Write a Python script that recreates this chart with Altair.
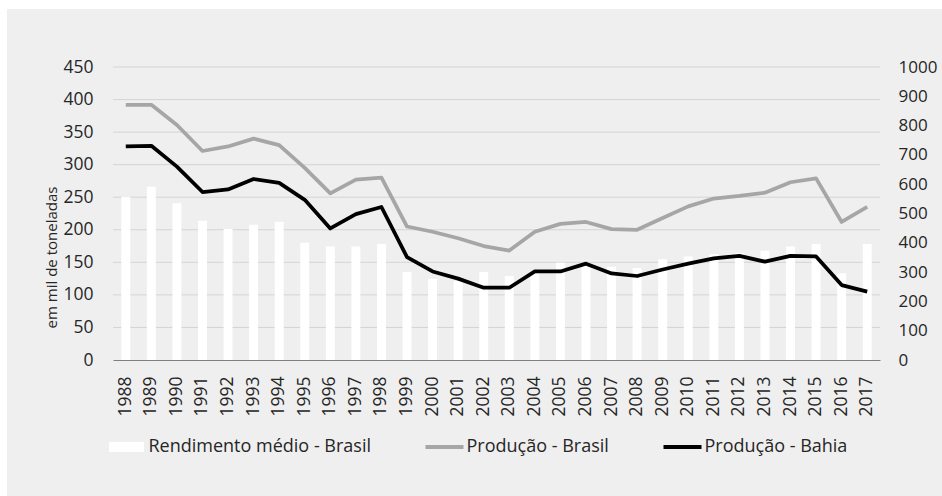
import altair as alt
import pandas as pd

years = [str(y) for y in range(1988, 2018)]
rendimento = [557, 591, 535, 475, 447, 462, 472, 400, 387, 387,
              396, 300, 277, 270, 300, 287, 296, 332, 330, 318,
              314, 344, 353, 362, 364, 373, 387, 396, 296, 396]
prod_brasil = [392, 392, 361, 321, 328, 340, 330, 295, 256, 277,
               280, 205, 197, 187, 175, 168, 197, 209, 212, 201,
               200, 218, 236, 248, 252, 257, 273, 279, 212, 235]
prod_bahia = [328, 329, 297, 258, 262, 278, 272, 246, 202, 224,
              235, 158, 136, 125, 111, 111, 136, 136, 148, 133,
              129, 139, 148, 156, 160, 151, 160, 159, 115, 105]
series = ["Rendimento médio - Brasil", "Produção - Brasil", "Produção - Bahia"]
colors = ["#ffffff", "#a6a6a6", "#000000"]
left_ticks = [50, 100, 150, 200, 250, 300, 350, 400, 450]

FONT = "Open Sans"
TXT = "#262626"
W, H = 767, 293

bars_df = pd.DataFrame({"ano": years, "valor": rendimento})
brasil_df = pd.DataFrame({"ano": years, "valor": prod_brasil})
bahia_df = pd.DataFrame({"ano": years, "valor": prod_bahia})
legend_df = pd.DataFrame({"serie": series})
grid_df = pd.DataFrame({"v": left_ticks})

x_axis = alt.Axis(title=None, labelAngle=270, labelFont=FONT, labelFontSize=17.5,
                  labelColor=TXT, labelPadding=16, ticks=False, tickSize=0,
                  domain=True, domainColor="#7f7f7f", domainWidth=1, zindex=1,
                  labelOverlap=False)
x_enc = alt.X("ano:O", scale=alt.Scale(paddingInner=0.65, paddingOuter=0.325),
              axis=x_axis, sort=years)

bg = alt.Chart(pd.DataFrame({"a": [0]})).mark_rect(color="#efefef").encode(
    x=alt.value(-106), x2=alt.value(W + 62), y=alt.value(-58), y2=alt.value(H + 136)
)

grid = alt.Chart(grid_df).mark_rule(color="#d4d4d4", strokeWidth=1).encode(
    y=alt.Y("v:Q", scale=alt.Scale(domain=[0, 450], nice=False), axis=None),
    x=alt.value(0), x2=alt.value(W)
)

bars = alt.Chart(bars_df).mark_bar(color="#ffffff").encode(
    x=x_enc,
    y=alt.Y("valor:Q", scale=alt.Scale(domain=[0, 1000], nice=False),
            axis=alt.Axis(orient="right", title=None, values=list(range(0, 1001, 100)),
                          format="d", grid=False, ticks=False, tickSize=0, domain=False,
                          labelFont=FONT, labelFontSize=17, labelColor=TXT,
                          labelPadding=18, labelAlign="left", zindex=1)),
)

left_axis = alt.Axis(orient="left", values=list(range(0, 451, 50)), grid=False,
                     ticks=False, tickSize=0, domain=False,
                     labelFont=FONT, labelFontSize=17.5, labelColor=TXT,
                     labelPadding=20, zindex=1,
                     title="em mil de toneladas", titleFont=FONT,
                     titleFontSize=15, titleFontWeight="normal", titleColor=TXT,
                     titleAngle=270, titleX=-62, titleY=190,
                     titleAlign="center", titleBaseline="middle")

line_brasil = alt.Chart(brasil_df).mark_line(
    strokeWidth=3.75, strokeJoin="round", color=colors[1]
).encode(
    x=x_enc,
    y=alt.Y("valor:Q", scale=alt.Scale(domain=[0, 450], nice=False), axis=left_axis),
)

line_bahia = alt.Chart(bahia_df).mark_line(
    strokeWidth=3.75, strokeJoin="round", color=colors[2]
).encode(
    x=x_enc,
    y=alt.Y("valor:Q", scale=alt.Scale(domain=[0, 450], nice=False), axis=None),
)

# legend-only layer: points placed outside the drawing, legend built from its scales
legend_pts = alt.Chart(legend_df).mark_point(filled=True, opacity=1).encode(
    x=alt.value(-3000), y=alt.value(-3000),
    color=alt.Color("serie:N", scale=alt.Scale(domain=series, range=colors),
                    legend=alt.Legend(title=None, orient="none", direction="horizontal",
                                      legendX=-5.5, legendY=361, columns=3,
                                      columnPadding=54, labelOffset=3,
                                      symbolSize=1444, symbolOpacity=1,
                                      symbolStrokeWidth=0, labelFont=FONT,
                                      labelFontSize=18, labelColor=TXT,
                                      labelLimit=0, padding=0, zindex=1)),
    shape=alt.Shape("serie:N", scale=alt.Scale(domain=series, range=[
        "M-0.92,-0.263H0.92V0.263H-0.92Z",
        "M-1,-0.1H1V0.1H-1Z",
        "M-1,-0.1H1V0.1H-1Z",
    ])),
)

chart = alt.layer(bg, grid, bars, line_brasil, line_bahia, legend_pts).resolve_scale(
    y="independent"
).properties(
    width=W, height=H,
    padding={"left": 113, "top": 67, "right": 62, "bottom": 136},
    autosize=alt.AutoSizeParams(type="none"),
    background="#ffffff",
).configure_view(stroke=None)

chart.save("out.html", embed_options={"renderer": "svg", "actions": False})
